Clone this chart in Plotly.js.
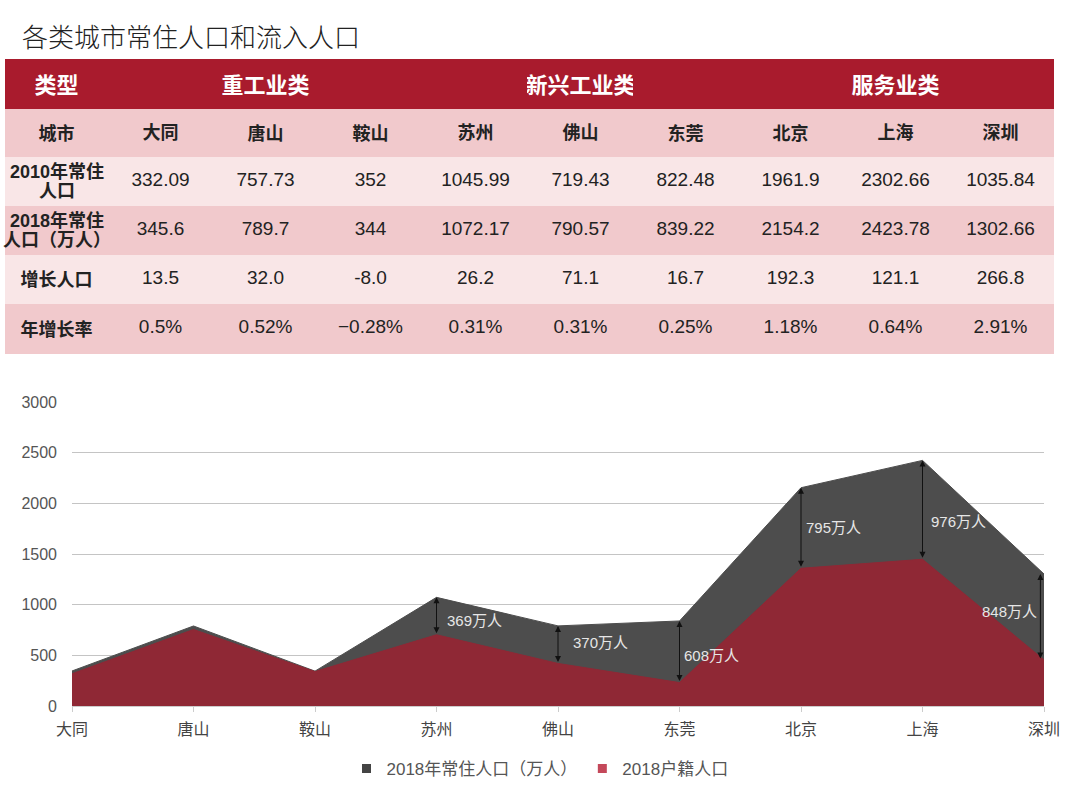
<!DOCTYPE html>
<html>
<head>
<meta charset="utf-8">
<script src="https://cdn.plot.ly/plotly-3.0.1.min.js"></script>
<style>
html,body{margin:0;padding:0;background:#fff;}
#chart{width:1080px;height:796px;}
</style>
</head>
<body>
<div id="chart"></div>
<script>
// ---- data ----
const cities = ['大同','唐山','鞍山','苏州','佛山','东莞','北京','上海','深圳'];
const groupHeader = ['类型','','重工业类','','','新兴工业类','','','服务业类',''];
const rowLabels = ['城市','2010年常住|人口','2018年常住|人口（万人）','增长人口','年增长率'];
const pop2010 = ['332.09','757.73','352','1045.99','719.43','822.48','1961.9','2302.66','1035.84'];
const pop2018 = [345.6, 789.7, 344, 1072.17, 790.57, 839.22, 2154.2, 2423.78, 1302.66];
const pop2018Text = ['345.6','789.7','344','1072.17','790.57','839.22','2154.2','2423.78','1302.66'];
const growth = ['13.5','32.0','-8.0','26.2','71.1','16.7','192.3','121.1','266.8'];
const growthRate = ['0.5%','0.52%','−0.28%','0.31%','0.31%','0.25%','1.18%','0.64%','2.91%'];
const hukou2018 = [318, 755, 340, 703, 420, 231, 1359, 1448, 455];
const inflowLabels = ['','','','369万人','370万人','608万人','795万人','976万人','848万人'];
const inflowLabelX = [0,0,0,3.31,4.35,5.26,6.27,7.30,7.72];
const inflowLabelY = [0,0,0,839,622,494,1757,1816,928];
const arrowX = [0,1,2,3,4,5,6,7,7.97];

const W = 1080, H = 796;
const px = v => v / W;
const py = v => 1 - v / H;

const rowFill = ['#f1c9cc','#f9e6e7','#f1c9cc','#f9e6e7','#f1c9cc'];
const colWidths = [103, 105, 105, 105, 105, 105, 105, 105, 105, 105];

// table A: header + cell fills
const blankCols = colWidths.map(() => rowLabels.map(() => ''));
const tableFill = {
  type: 'table',
  domain: {x: [px(5), px(1053)], y: [py(354), py(59)]},
  columnwidth: colWidths,
  header: {
    values: groupHeader.map(t => t ? '<b>' + t + '</b>' : ''),
    align: 'center',
    height: 49,
    fill: {color: '#a91b2d'},
    line: {color: '#a91b2d', width: 1},
    font: {family: 'Noto Sans CJK SC', size: 22, color: '#ffffff'}
  },
  cells: {
    values: blankCols,
    height: 49,
    fill: {color: [rowFill]},
    line: {color: [rowFill], width: 1},
    font: {size: 12, color: '#000'}
  }
};

// table B: texts (city row as header, transparent)
const headTexts = ['<b>' + rowLabels[0] + '</b>'].concat(cities.map(c => '<b>' + c + '</b>'));
const textCols = [rowLabels.slice(1).map(t => t.indexOf('|') >= 0 ? '' : '<b>' + t + '</b>')];
cities.forEach((c, i) => {
  textCols.push([pop2010[i], pop2018Text[i], growth[i], growthRate[i]]);
});
const textFont = {
  family: 'Liberation Sans, Noto Sans CJK SC',
  size: [18, 19, 19, 19, 19, 19, 19, 19, 19, 19],
  color: '#222222'
};
const tableText = {
  type: 'table',
  domain: {x: [px(5), px(1053)], y: [py(362), py(115)]},
  columnwidth: colWidths,
  header: {
    values: headTexts,
    align: 'center',
    height: 49,
    fill: {color: 'rgba(0,0,0,0)'},
    line: {color: 'rgba(0,0,0,0)', width: 0},
    font: {family: 'Liberation Sans, Noto Sans CJK SC', size: 18, color: '#222222'}
  },
  cells: {
    values: textCols,
    align: 'center',
    height: 49,
    fill: {color: 'rgba(0,0,0,0)'},
    line: {color: 'rgba(0,0,0,0)', width: 0},
    font: textFont
  }
};

// ---- area traces ----
const xIdx = cities.map((c, i) => i);
const traceTotal = {
  type: 'scatter', mode: 'lines', x: xIdx, y: pop2018,
  name: '2018年常住人口（万人）', showlegend: false,
  fill: 'tozeroy', fillcolor: '#4d4d4d',
  line: {color: '#4d4d4d', width: 1},
  hoverinfo: 'skip'
};
const traceHukou = {
  type: 'scatter', mode: 'lines', x: xIdx, y: hukou2018,
  name: '2018户籍人口', showlegend: false,
  fill: 'tozeroy', fillcolor: '#8f2835',
  line: {color: '#8f2835', width: 1},
  hoverinfo: 'skip'
};
const legendTotal = {
  type: 'scatter', mode: 'markers', x: [null], y: [null],
  name: '2018年常住人口（万人）',
  marker: {symbol: 'square', size: 9, color: '#444444'}
};
const legendHukou = {
  type: 'scatter', mode: 'markers', x: [null], y: [null],
  name: '2018户籍人口',
  marker: {symbol: 'square', size: 9, color: '#c4485a'}
};

// ---- annotations ----
const annotations = [{
  text: '各类城市常住人口和流入人口',
  xref: 'paper', yref: 'paper', x: px(20), y: py(36),
  xanchor: 'left', yanchor: 'middle', showarrow: false,
  font: {family: 'Noto Sans CJK SC', size: 26, color: '#222', weight: 300}
}];
const rowTop = 108, rowH = 49;
rowLabels.forEach((t, r) => {
  if (t.indexOf('|') < 0) return;
  const parts = t.split('|');
  const cy = rowTop + rowH * r + rowH / 2;
  parts.forEach((p, k) => {
    annotations.push({
      text: '<b>' + p + '</b>', xref: 'paper', yref: 'paper',
      x: px(56.5), y: py(cy + (k === 0 ? -10 : 10)),
      xanchor: 'center', yanchor: 'middle', showarrow: false,
      font: {family: 'Liberation Sans, Noto Sans CJK SC', size: 18, color: '#222'}
    });
  });
});
for (let i = 0; i < cities.length; i++) {
  if (!inflowLabels[i]) continue;
  annotations.push({
    xref: 'x', yref: 'y', axref: 'x', ayref: 'y',
    x: arrowX[i], y: pop2018[i], ax: arrowX[i], ay: hukou2018[i],
    text: '', showarrow: true, arrowhead: 2, arrowside: 'end+start',
    arrowsize: 1.2, arrowwidth: 1, arrowcolor: '#111', standoff: 0, startstandoff: 0
  });
  annotations.push({
    xref: 'x', yref: 'y', x: inflowLabelX[i], y: inflowLabelY[i],
    text: inflowLabels[i], showarrow: false,
    font: {family: 'Liberation Sans, Noto Sans CJK SC', size: 15, color: '#e6e6e6'}
  });
}

const layout = {
  width: W, height: H,
  margin: {l: 0, r: 0, t: 0, b: 0},
  paper_bgcolor: '#ffffff', plot_bgcolor: '#ffffff',
  showlegend: true,
  legend: {
    orientation: 'h', x: 0.5, xanchor: 'center', y: py(769), yanchor: 'middle',
    font: {family: 'Liberation Sans, Noto Sans CJK SC', size: 17, color: '#555'},
    traceorder: 'normal', itemwidth: 30
  },
  xaxis: {
    domain: [px(72), px(1044)],
    range: [0, 8],
    tickmode: 'array', tickvals: xIdx, ticktext: cities,
    ticks: 'outside', ticklen: 5, tickcolor: '#cccccc',
    ticklabelstandoff: 4,
    showgrid: false, zeroline: false,
    showline: true, linecolor: '#cccccc', linewidth: 1,
    tickfont: {family: 'Noto Sans CJK SC', size: 16, color: '#444'}
  },
  yaxis: {
    domain: [py(706), py(401.5)],
    range: [0, 3005],
    tickvals: [0, 500, 1000, 1500, 2000, 2500, 3000],
    showgrid: true, gridcolor: '#c4c4c4', gridwidth: 1,
    zeroline: false, showline: false,
    ticks: '', ticklabelstandoff: 14,
    tickfont: {family: 'Liberation Sans, Noto Sans CJK SC', size: 16, color: '#555'}
  },
  annotations: annotations
};

Plotly.newPlot('chart', [tableFill, tableText, traceTotal, traceHukou, legendTotal, legendHukou], layout, {displayModeBar: false, staticPlot: true});
</script>
</body>
</html>
